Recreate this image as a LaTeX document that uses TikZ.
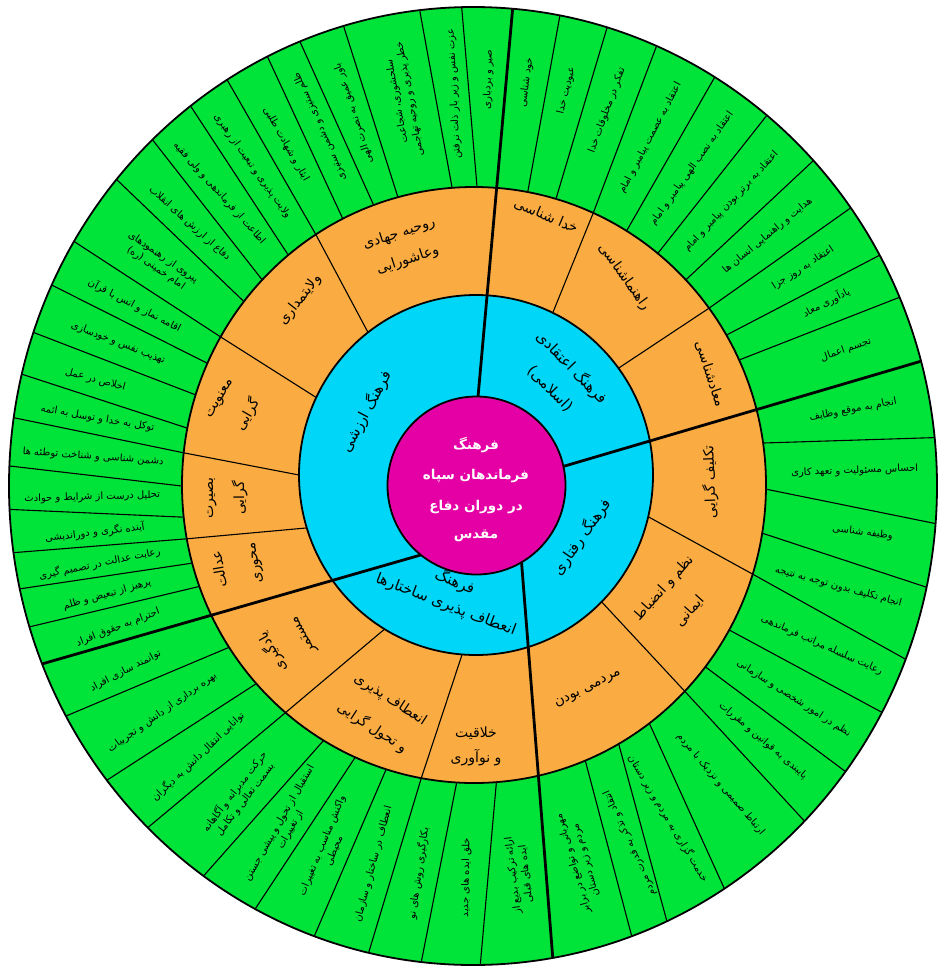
\documentclass[tikz,border=0pt]{standalone}
\usepackage{fontspec}
\newfontfamily\fa[Script=Arabic]{DejaVu Sans}
\TeXXeTstate=1
\definecolor{ringgreen}{RGB}{0,228,58}
\definecolor{ringorange}{RGB}{250,172,66}
\definecolor{ringcyan}{RGB}{0,214,248}
\definecolor{coremag}{RGB}{228,0,165}
\newcommand\RL[1]{\beginR #1\endR}
\tikzset{
  thinl/.style={line width=1.1pt},
  thickl/.style={line width=2.8pt},
  ringline/.style={line width=1.8pt},
  gtext/.style={font=\fa\fontsize{10}{13}\selectfont, align=center, inner sep=0pt},
  otext/.style={font=\fa\fontsize{14}{30}\selectfont, align=center, inner sep=0pt},
  btext/.style={font=\fa\fontsize{15}{30}\selectfont, align=center, inner sep=0pt},
  ctext/.style={font=\fa\bfseries\fontsize{13.5}{18}\selectfont, text=white, inner sep=0pt},
}
\newcommand\gtxt[4][0.52]{%
  \pgfmathsetmacro\gph{#3}%
  \pgfmathsetmacro\grot{\gph>115 ? \gph-180 : (\gph<-65 ? \gph+180 : \gph)}%
  \pgfmathsetmacro\gpx{473.5+(292+#1*172)*cos(\gph)}%
  \pgfmathsetmacro\gpy{-485.5+(298+#1*181)*sin(\gph)}%
  \node[gtext, rotate=\grot] (#2) at (\gpx,\gpy) {#4};}
\begin{document}
\begin{tikzpicture}[x=1pt,y=1pt,line join=round]
\useasboundingbox (0,-967) rectangle (939,0);
\fill[white] (0,-967) rectangle (939,0);
% outer green ring
\filldraw[fill=ringgreen, ringline] (473,-486) ellipse [x radius=464pt, y radius=479pt];
\foreach \a/\b in {91.4/89.4, 96.6/94.3, 106.2/105.1, 111.9/110.1, 116.3/116.7, 122/122.8,
  127.5/129.5, 133.7/136.5, 140.2/142, 149.3/150.2, 155.2/155.9, 161.3/162.4, 166.5/169,
  171.8/173.8, 177.6/180.2, 182.8/186.2, 188/190.4, 192.4/195.2, 197.1/199.9,
  79.2/79.4, 73.2/73.7, 66.7/65.9, 58.6/58.5, 50.7/51, 42.8/43.5, 35.5/36.4, 28.8/30.2, 23.2/24.8,
  5.8/8.1, -4.5/-0.8, -12.2/-9.3, -21.2/-17.4, -28.2/-29.1, -36.6/-37.6, -44.4/-43.8,
  -57.2/-53.1, -65.3/-60.3, -70/-67.6,
  -89.1/-85.6, -96.4/-93.4, -103/-100.4, -110/-107.5, -118/-114, -125.5/-121,
  -134.5/-130.2, -142.1/-138.2, -151.3/-147}
  \draw[thinl] ({473+464*cos(\a)},{-486+479*sin(\a)}) -- ({474+292*cos(\b)},{-485+298*sin(\b)});
% orange ring
\filldraw[fill=ringorange, ringline] (474,-485) ellipse [x radius=292pt, y radius=298pt];
\foreach \a/\b in {64.3/65.9, 36.4/36.4, -13.4/-17.4, -44.8/-43.8, -94.5/-100.4,
  -121.1/-130.2, 197.1/190.4, 180/173.8, 154.5/150.2, 127.6/122.8}
  \draw[thinl] ({476+177*cos(\a)},{-475+180*sin(\a)}) -- ({474+292*cos(\b)},{-485+298*sin(\b)});
% cyan ring
\filldraw[fill=ringcyan, ringline] (476,-475) ellipse [x radius=177pt, y radius=180pt];
% thick dividers
\foreach \a/\b in {89/85.1, 12.4/15.1, -59.6/-80.1, -128.7/-158.2}
  \draw[thickl] ({476.5+89*cos(\a)},{-485.5+89*sin(\a)}) -- ({473+464*cos(\b)},{-486+479*sin(\b)});
% core
\filldraw[fill=coremag, ringline] (476.5,-485.5) circle [radius=89pt];
\node[ctext] (c1) at (476,-445) {\RL{فرهنگ}};
\node[ctext] (c2) at (476,-476) {\RL{فرماندهان سپاه}};
\node[ctext] (c3) at (476,-507) {\RL{در دوران دفاع}};
\node[ctext] (c4) at (476,-536) {\RL{مقدس}};
% cyan labels
\node[btext, rotate=62] (b1) at (366,-412) {\RL{فرهنگ ارزشی}};
\node[btext, rotate=-46] (b2) at (561.5,-377.5) {\RL{فرهنگ اعتقادی}\\\RL{(اسلامی)}};
\node[btext, rotate=55] (b3) at (582,-537) {\RL{فرهنگ رفتاری}};
\node[btext, rotate=-21, font=\fa\fontsize{15}{24}\selectfont] (b4) at (450.5,-593) {\RL{فرهنگ}\\\RL{انعطاف پذیری ساختارها}};
% orange labels
\node[otext, rotate=-23] (o1) at (546,-216) {\RL{خدا شناسی}};
\node[otext, rotate=-54] (o2) at (624,-277) {\RL{راهنماشناسی}};
\node[otext, rotate=-72] (o3) at (710,-374) {\RL{معادشناسی}};
\node[otext, rotate=92] (o4) at (710,-482) {\RL{تکلیف گرایی}};
\node[otext, rotate=48, font=\fa\fontsize{14}{35}\selectfont] (o5) at (676.5,-599.5) {\RL{نظم و انضباط}\\\RL{ایمانی}};
\node[otext, rotate=27] (o6) at (588,-689) {\RL{مردمی بودن}};
\node[otext, font=\fa\fontsize{14}{25}\selectfont] (o7) at (476,-746) {\RL{خلاقیت}\\\RL{و نوآوری}};
\node[otext, rotate=-33, font=\fa\fontsize{14}{34}\selectfont] (o8) at (381,-714) {\RL{انعطاف پذیری}\\\RL{و تحول گرایی}};
\node[otext, rotate=119, font=\fa\fontsize{14}{34}\selectfont] (o9) at (287,-644) {\RL{یادگیری}\\\RL{مستمر}};
\node[otext, rotate=100, font=\fa\fontsize{14}{35}\selectfont] (o10) at (237.5,-566) {\RL{عدالت}\\\RL{محوری}};
\node[otext, rotate=90, font=\fa\fontsize{14}{31}\selectfont] (o11) at (227.5,-498) {\RL{بصیرت}\\\RL{گرایی}};
\node[otext, rotate=60, font=\fa\fontsize{14}{34}\selectfont] (o12) at (235,-407.5) {\RL{معنویت}\\\RL{گرایی}};
\node[otext, rotate=52] (o13) at (300,-300) {\RL{ولایتمداری}};
\node[otext, rotate=18, font=\fa\fontsize{14}{28}\selectfont] (o14) at (403.5,-247) {\RL{روحیه جهادی}\\\RL{وعاشورایی}};
% green labels: upper right
\gtxt[0.6]{gu1}{82.3}{\RL{خود شناسی}}
\gtxt[0.6]{gu2}{76.4}{\RL{عبودیت خدا}}
\gtxt[0.56]{gu3}{69.9}{\RL{تفکر در مخلوقات خدا}}
\gtxt{gu4}{62.4}{\RL{اعتقاد به عصمت پیامبر و امام}}
\gtxt[0.5]{gu5}{54.7}{\RL{اعتقاد به نصب الهی پیامبر و امام}}
\gtxt[0.5]{gu6}{47}{\RL{اعتقاد به برتر بودن پیامبر و امام}}
\gtxt{gu7}{39.55}{\RL{هدایت و راهنمایی انسان ها}}
\gtxt[0.58]{gu8}{32.7}{\RL{اعتقاد به روز جزا}}
\gtxt[0.6]{gu9}{26.75}{\RL{یادآوری معاد}}
\gtxt[0.6]{gu10}{19.5}{\RL{تجسم اعمال}}
% lower right
\gtxt[0.55]{gr1}{10.95}{\RL{انجام به موقع وظایف}}
\gtxt{gr2}{2.15}{\RL{احساس مسئولیت و تعهد کاری}}
\gtxt[0.58]{gr3}{-6.7}{\RL{وظیفه شناسی}}
\gtxt[0.5]{gr4}{-15.1}{\RL{انجام تکلیف بدون توجه به نتیجه}}
\gtxt{gr5}{-24.05}{\RL{رعایت سلسله مراتب فرماندهی}}
\gtxt{gr6}{-32.9}{\RL{نظم در امور شخصی و سازمانی}}
\gtxt{gr7}{-40.6}{\RL{پایبندی به قوانین و مقررات}}
\gtxt{gr8}{-49.6}{\RL{ارتباط صمیمی و نزدیک با مردم}}
\gtxt[0.5]{gr9}{-59}{\RL{خدمت گزاری به مردم و زیر دستان}}
\gtxt{gr10}{-65.8}{\RL{انتقاد و تذکر به قدرت مردم}}
\gtxt{gr11}{-73.85}{\RL{مهربانی و تواضع در برابر}\\\RL{مردم و زیر دستان}}
% lower left
\gtxt{gl1}{-83.1}{\RL{ارائه ترکیب بدیع از}\\\RL{ایده های قبلی}}
\gtxt{gl2}{-91.1}{\RL{خلق ایده های جدید}}
\gtxt{gl3}{-98.3}{\RL{بکارگیری روش های نو}}
\gtxt{gl4}{-105.2}{\RL{انعطاف در ساختار و سازمان}}
\gtxt{gl5}{-112.4}{\RL{واکنش مناسب به تغییرات}\\\RL{محیطی}}
\gtxt{gl6}{-119.6}{\RL{استقبال از تحول و پیشی جستن}\\\RL{از تغییرات}}
\gtxt{gl7}{-127.8}{\RL{حرکت مدبرانه و آگاهانه}\\\RL{بسمت تعالی و تکامل}}
\gtxt{gl8}{-136.25}{\RL{توانایی انتقال دانش به دیگران}}
\gtxt{gl9}{-144.65}{\RL{بهره برداری از دانش و تجربیات}}
\gtxt[0.58]{gl10}{-152.6}{\RL{توانمند سازی افراد}}
% upper left
\gtxt[0.6]{gv1}{87.85}{\RL{صبر و بردباری}}
\gtxt{gv2}{92.9}{\RL{عزت نفس و زیر بار ذلت نرفتن}}
\gtxt{gv3}{100.55}{\RL{سلحشوری، شجاعت}\\\RL{خطر پذیری و روحیه تهاجمی}}
\gtxt{gv4}{108.3}{\RL{باور عمیق به نصرت الهی}}
\gtxt{gv5}{113.75}{\RL{ظلم ستیزی و دشمن ستیزی}}
\gtxt{gv6}{119.45}{\RL{ایثار و شهادت طلبی}}
\gtxt{gv7}{125.45}{\RL{ولایت پذیری و تبعیت از رهبری}}
\gtxt{gv8}{131.8}{\RL{اطاعت از فرماندهی و ولی فقیه}}
\gtxt{gv9}{138.1}{\RL{دفاع از ارزش های انقلاب}}
\gtxt{gv10}{145.4}{\RL{پیروی از رهنمودهای}\\\RL{امام خمینی (ره)}}
\gtxt{gv11}{152.65}{\RL{اقامه نماز و انس با قرآن}}
\gtxt{gv12}{158.7}{\RL{تهذیب نفس و خودسازی}}
\gtxt[0.58]{gv13}{164.8}{\RL{اخلاص در عمل}}
\gtxt{gv14}{170.2}{\RL{توکل به خدا و توسل به ائمه}}
\gtxt{gv15}{175.8}{\RL{دشمن شناسی و شناخت توطئه ها}}
\gtxt{gv16}{181.7}{\RL{تحلیل درست از شرایط و حوادث}}
\gtxt{gv17}{186.85}{\RL{آینده نگری و دوراندیشی}}
\gtxt{gv18}{191.5}{\RL{رعایت عدالت در تصمیم گیری}}
\gtxt{gv19}{196.15}{\RL{پرهیز از تبعیض و ظلم}}
\gtxt{gv20}{201.25}{\RL{احترام به حقوق افراد}}
\end{tikzpicture}
\end{document}
